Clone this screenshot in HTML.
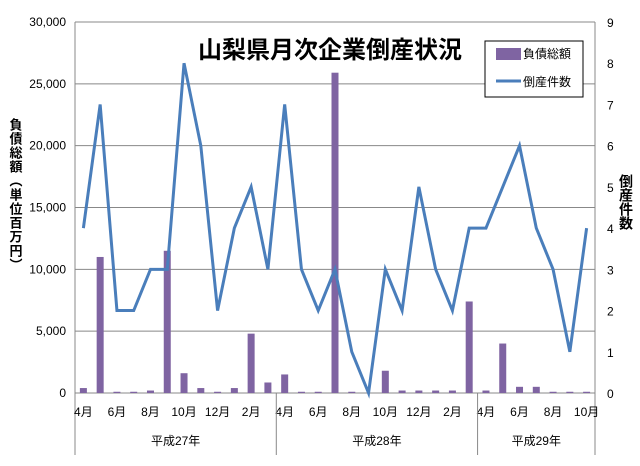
<!DOCTYPE html>
<html><head><meta charset="utf-8"><style>
body{margin:0;background:#fff;}
svg text{font-family:"Liberation Sans","Noto Sans CJK JP",sans-serif;}
</style></head><body>
<svg id="chart" width="640" height="461" xmlns="http://www.w3.org/2000/svg">
<rect width="640" height="461" fill="#fff"/>
<g id="grid"></g><g id="bars"></g><g id="line"></g><g id="axes"></g>
<text x="330" y="58" text-anchor="middle" font-size="24" font-weight="bold" fill="#000">山梨県月次企業倒産状況</text>
<g>
<rect x="485" y="41" width="98" height="56" fill="#fff" stroke="#000" stroke-width="1"/>
<rect x="496" y="48" width="25" height="12" fill="#7f64a2"/>
<text x="523" y="58" font-size="12">負債総額</text>
<line x1="496" y1="81" x2="521" y2="81" stroke="#4a7ebb" stroke-width="3"/>
<text x="523" y="86" font-size="12">倒産件数</text>
</g>
<text font-size="13" font-weight="bold" writing-mode="tb" x="15" y="118" letter-spacing="1">負債総額（単位百万円）</text>
<text font-size="14" font-weight="bold" writing-mode="tb" x="626" y="174">倒産件数</text>
</svg>
<script>
const months=["4月","5月","6月","7月","8月","9月","10月","11月","12月","1月","2月","3月","4月","5月","6月","7月","8月","9月","10月","11月","12月","1月","2月","3月","4月","5月","6月","7月","8月","9月","10月"];
const debt=[400,11000,100,100,200,11500,1600,400,100,400,4800,850,1500,100,100,25900,100,0,1800,200,200,200,200,7400,200,4000,500,500,100,100,100];
const counts=[4,7,2,2,3,3,8,6,2,4,5,3,7,3,2,3,1,0,3,2,5,3,2,4,4,5,6,4,3,1,4];
const leftTicks=[0,5000,10000,15000,20000,25000,30000];
const rightTicks=[0,1,2,3,4,5,6,7,8,9];
const years=[{label:"平成27年",start:0,end:12},{label:"平成28年",start:12,end:24},{label:"平成29年",start:24,end:31}];
const NS="http://www.w3.org/2000/svg";
const X0=75,X1=595,Y0=393,Y1=22;
const cw=(X1-X0)/months.length;
const xc=i=>X0+cw*(i+0.5);
const yL=v=>Y0-(v/30000)*(Y0-Y1);
const yR=v=>Y0-(v/9)*(Y0-Y1);
function mk(tag,attrs,parent,txt){const e=document.createElementNS(NS,tag);for(const k in attrs)e.setAttribute(k,attrs[k]);if(txt!==undefined)e.textContent=txt;document.getElementById(parent).appendChild(e);return e;}
leftTicks.forEach(t=>{
 const l=mk('line',{x1:X0,x2:X1,y1:yL(t),y2:yL(t),stroke:'#888','stroke-width':1},'grid');
 
 
 const tx=mk('text',{x:66,y:yL(t)+4,'text-anchor':'end','font-size':12},'axes',t.toLocaleString('en-US'));
 
 
});
rightTicks.forEach(t=>{
 const tx=mk('text',{x:607,y:yR(t)+5,'font-size':12},'axes',String(t));
 
 
});
debt.forEach((v,i)=>{
 const r=mk('rect',{x:xc(i)-3.5,y:yL(v),width:7,height:Math.max(0,Y0-yL(v)),fill:'#7f64a2'},'bars');
 
 
});
const p=mk('polyline',{points:counts.map((v,i)=>xc(i)+','+yR(v)).join(' '),fill:'none',stroke:'#4a7ebb','stroke-width':3,'stroke-linejoin':'miter'},'line');


[[X0,Y1,X0,455],[X1,Y1,X1,455]].forEach(a=>{
 const l=mk('line',{x1:a[0],y1:a[1],x2:a[2],y2:a[3],stroke:'#888'},'axes');
 
 
});
months.forEach((m,i)=>{
 if(i%2===0){
  const tx=mk('text',{x:xc(i),y:416,'text-anchor':'middle','font-size':12},'axes',m);
  
  
 }
});
years.forEach((y,k)=>{
 const xa=X0+cw*y.start,xb=X0+cw*y.end;
 if(k>0){const l=mk('line',{x1:xa,y1:Y0,x2:xa,y2:455,stroke:'#888'},'axes');
  
  }
 const tx=mk('text',{x:(xa+xb)/2,y:445,'text-anchor':'middle','font-size':12},'axes',y.label);
 
 
});
</script>
</body></html>
